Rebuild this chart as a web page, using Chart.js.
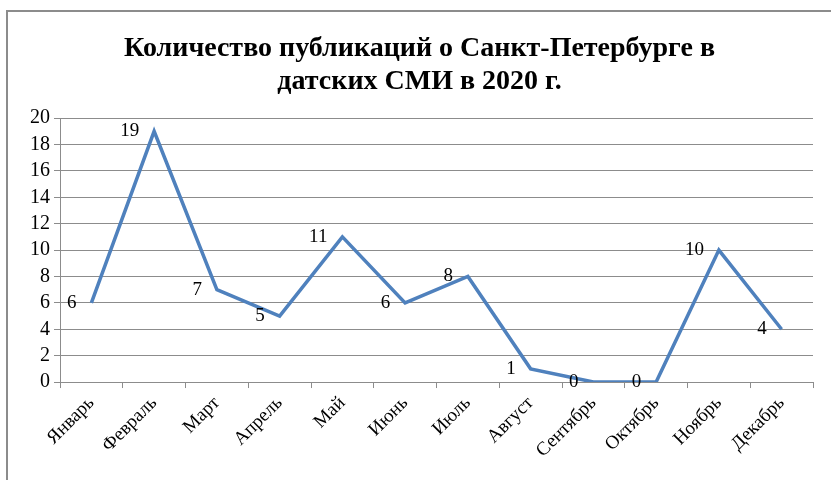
<!DOCTYPE html>
<html>
<head>
<meta charset="utf-8">
<script src="https://cdn.jsdelivr.net/npm/chart.js@4"></script>
<style>
  body { margin: 0; background: #fff; }
  #wrap { position: relative; width: 831px; height: 480px; overflow: hidden; }
  #frame { position: absolute; left: 6px; top: 10px; width: 840px; height: 490px; border: 2px solid #8c8c8c; box-sizing: border-box; }
  canvas { position: absolute; left: 0; top: 0; }
</style>
</head>
<body>
<div id="wrap">
  <div id="frame"></div>
  <canvas id="chart" width="831" height="480"></canvas>
</div>
<script>
const months = ['Январь', 'Февраль', 'Март', 'Апрель', 'Май', 'Июнь', 'Июль', 'Август', 'Сентябрь', 'Октябрь', 'Ноябрь', 'Декабрь'];
const publications = [6, 19, 7, 5, 11, 6, 8, 1, 0, 0, 10, 4];
const titleLines = ['Количество публикаций о Санкт-Петербурге в', 'датских СМИ в 2020 г.'];

const serif = '"Liberation Serif", "Times New Roman", serif';

// labels on the left of each point, like the Excel original
const pointLabels = {
  id: 'pointLabels',
  afterDatasetsDraw(chart) {
    const ctx = chart.ctx;
    const meta = chart.getDatasetMeta(0);
    ctx.save();
    ctx.font = '19px ' + serif;
    ctx.fillStyle = '#000';
    ctx.textAlign = 'right';
    ctx.textBaseline = 'middle';
    meta.data.forEach((pt, i) => {
      ctx.fillText(String(publications[i]), pt.x - 15, pt.y);
    });
    ctx.restore();
  }
};

new Chart(document.getElementById('chart'), {
  type: 'line',
  data: {
    labels: months,
    datasets: [{
      data: publications,
      borderColor: '#4f81bd',
      borderWidth: 3.5,
      pointRadius: 0,
      tension: 0,
      fill: false
    }]
  },
  plugins: [pointLabels],
  options: {
    animation: false,
    responsive: false,
    maintainAspectRatio: false,
    layout: { padding: { left: 26, right: 18, top: 14, bottom: 14 } },
    plugins: {
      legend: { display: false },
      tooltip: { enabled: false },
      title: {
        display: true,
        text: titleLines,
        color: '#000',
        font: { family: serif, size: 28, weight: 'bold', lineHeight: 1.18 },
        padding: { top: 18, bottom: 20 }
      }
    },
    scales: {
      x: {
        offset: true,
        grid: { offset: true, drawOnChartArea: false, drawTicks: true, tickLength: 6, color: '#8c8c8c' },
        border: { color: '#8c8c8c' },
        ticks: {
          color: '#000',
          font: { family: serif, size: 19 },
          maxRotation: 45,
          minRotation: 45,
          autoSkip: false,
          padding: 4
        }
      },
      y: {
        min: 0,
        max: 20,
        grid: { color: '#8c8c8c', tickLength: 6 },
        border: { color: '#8c8c8c' },
        ticks: {
          stepSize: 2,
          autoSkip: false,
          color: '#000',
          font: { family: serif, size: 20 },
          padding: 4
        }
      }
    }
  }
});
</script>
</body>
</html>
